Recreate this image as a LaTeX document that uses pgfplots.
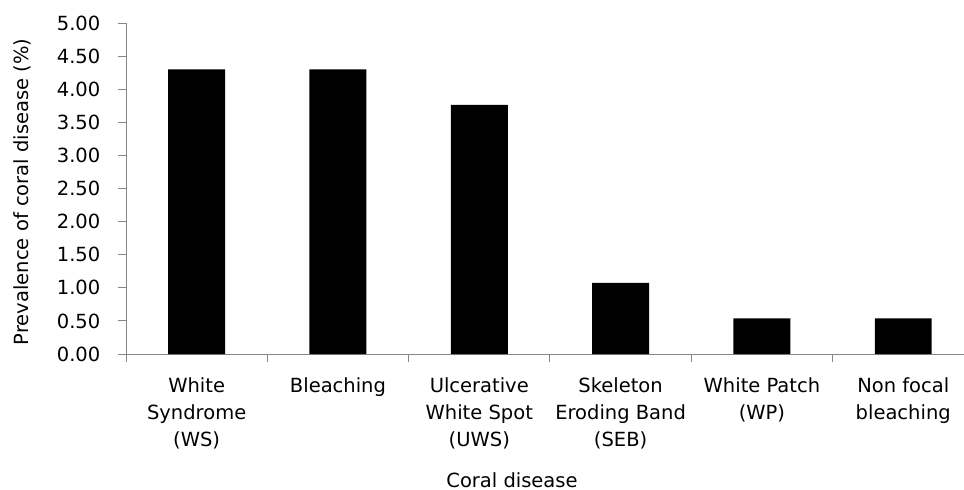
\documentclass[border=0pt]{standalone}
\usepackage{pgfplots}
\pgfplotsset{compat=1.18}
\usepackage{fontspec}
\setmainfont{DejaVu Sans}
\definecolor{axgray}{RGB}{134,134,134}
\begin{document}
\fontsize{19.5}{27}\selectfont
\begin{tikzpicture}
\path[use as bounding box] (-126pt,-136pt) rectangle (838pt,354pt);
\begin{axis}[
  at={(0pt,0pt)}, anchor=south west,
  scale only axis, width=838pt, height=331pt,
  xmin=-0.5, xmax=5.43, ymin=0, ymax=5,
  axis x line*=bottom, axis y line*=left,
  axis line style={axgray, line width=0.9pt},
  ybar, bar width=0.403,
  xtick={0,1,2,3,4,5},
  xticklabels={{White\\Syndrome\\(WS)},{Bleaching},{Ulcerative\\White Spot\\(UWS)},{Skeleton\\Eroding Band\\(SEB)},{White Patch\\(WP)},{Non focal\\bleaching}},
  xticklabel style={align=center, font=\fontsize{19.5}{27}\selectfont, yshift=-9pt},
  minor xtick={-0.5,0.5,1.5,2.5,3.5,4.5},
  major x tick style={draw=none},
  minor x tick style={axgray, line width=0.9pt},
  ytick={0,0.5,...,5},
  y tick style={axgray, line width=0.9pt},
  tick align=outside, major tick length=8pt, minor tick length=8pt,
  yticklabel style={/pgf/number format/.cd, fixed, fixed zerofill, precision=2, assume math mode=true, /tikz/.cd, font=\fontsize{19.5}{27}\selectfont, xshift=-11pt},
  /pgf/number format/assume math mode=true,
  xlabel={Coral disease},
  xlabel style={at={(axis description cs:0.4606,0)}, anchor=base, yshift=-133pt, font=\fontsize{19.5}{27}\selectfont},
  ylabel={Prevalence of coral disease (\%)},
  ylabel style={at={(axis description cs:-0.1169,0.49)}, anchor=base, font=\fontsize{19.5}{27}\selectfont},
  clip=false,
]
\addplot[fill=black, draw=none] coordinates {(0,4.301) (1,4.301) (2,3.763) (3,1.075) (4,0.538) (5,0.538)};
\end{axis}
\end{tikzpicture}
\end{document}
